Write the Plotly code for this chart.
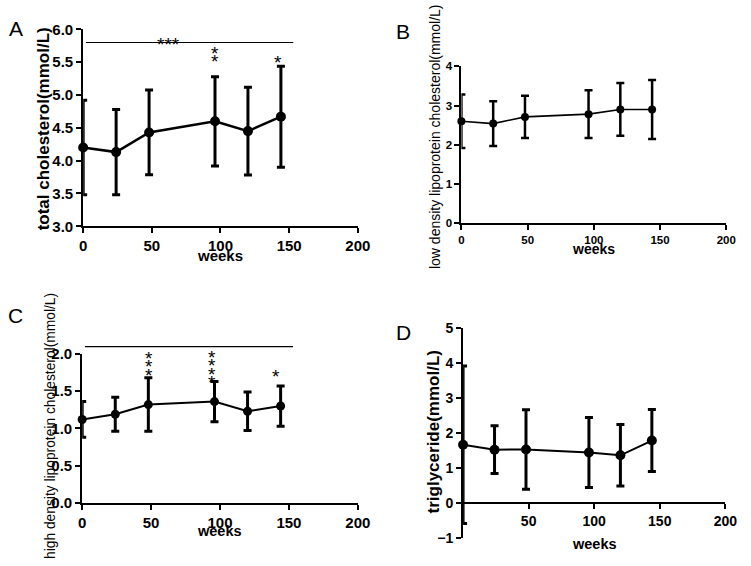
import plotly.graph_objects as go

# ---------------- data ----------------
weeks = [0, 24, 48, 96, 120, 144]

tc_mean = [4.20, 4.13, 4.43, 4.60, 4.45, 4.67]
tc_sd = [0.72, 0.65, 0.645, 0.68, 0.67, 0.77]

ldl_mean = [2.60, 2.54, 2.71, 2.78, 2.90, 2.90]
ldl_sd = [0.68, 0.57, 0.54, 0.61, 0.67, 0.75]

hdl_mean = [1.12, 1.19, 1.32, 1.36, 1.23, 1.30]
hdl_sd = [0.24, 0.23, 0.36, 0.27, 0.26, 0.27]

tg_mean = [1.67, 1.53, 1.535, 1.45, 1.37, 1.79]
tg_sd = [2.25, 0.68, 1.135, 1.00, 0.88, 0.885]

# significance annotations: (week, number of stars, y of lowest star)
tc_sig_points = [(96, 2, 5.57), (142, 1, 5.56)]
tc_bracket = (2, 153, 5.8, 62, "***")
hdl_sig_points = [(48.5, 3, 1.77), (94, 4, 1.67), (141, 1, 1.75)]
hdl_bracket = (2, 153, 2.1, 65, "****")

FONT = "Liberation Sans, Arial, sans-serif"
W, H = 751, 566


def fx(px):
    return px / W


def fy(py):
    return 1 - py / H


fig = go.Figure()

panels = [
    dict(ax="", mean=tc_mean, sd=tc_sd, xdom=[fx(81), fx(362)], ydom=[fy(224), fy(21)],
         yr=[3, 6], dtick=0.5, fmt=".1f", tfs=15, msize=10, lw=2.5, ew=3),
    dict(ax="2", mean=ldl_mean, sd=ldl_sd, xdom=[fx(468), fx(739)], ydom=[fy(221), fy(59)],
         yr=[0, 4], dtick=1, fmt="d", tfs=11.5, msize=8, lw=1.6, ew=2.5),
    dict(ax="3", mean=hdl_mean, sd=hdl_sd, xdom=[fx(80), fx(362)], ydom=[fy(509), fy(355.7)],
         yr=[0, 2], dtick=0.5, fmt=".1f", tfs=15, msize=9, lw=2, ew=3),
    dict(ax="4", mean=tg_mean, sd=tg_sd, xdom=[fx(469.7), fx(738)], ydom=[fy(545.7), fy(329)],
         yr=[-1, 5], dtick=1, fmt="d", tfs=14, msize=10, lw=2, ew=3),
]

for p in panels:
    a = p["ax"]
    fig.add_trace(go.Scatter(
        x=weeks, y=p["mean"], mode="lines+markers",
        xaxis="x" + a, yaxis="y" + a,
        line=dict(color="black", width=p["lw"]),
        marker=dict(color="black", size=p["msize"]),
        error_y=dict(type="data", array=p["sd"], visible=True, color="black",
                     thickness=p["ew"], width=4),
        cliponaxis=False, showlegend=False, hoverinfo="skip",
    ))
    xa = dict(domain=p["xdom"], range=[0, 200], showgrid=False, zeroline=False,
              showline=True, linecolor="black", linewidth=2, ticks="outside",
              ticklen=5, tickwidth=2, tickcolor="black", tickvals=[0, 50, 100, 150, 200],
              tickfont=dict(family=FONT, size=p["tfs"], color="black", weight="bold"),
              anchor="y" + a)
    ya = dict(domain=p["ydom"], range=p["yr"], showgrid=False, zeroline=False,
              showline=True, linecolor="black", linewidth=2, ticks="outside",
              ticklen=5, tickwidth=2, tickcolor="black", dtick=p["dtick"], tick0=p["yr"][0],
              tickformat=p["fmt"],
              tickfont=dict(family=FONT, size=p["tfs"], color="black", weight="bold"),
              anchor="x" + a)
    if a == "4":
        ymin, ymax = p["yr"]
        pos = p["ydom"][0] + (0 - ymin) / (ymax - ymin) * (p["ydom"][1] - p["ydom"][0])
        xa.update(anchor="free", position=pos, tickvals=[50, 100, 150, 200])
    fig.update_layout(**{"xaxis" + a: xa, "yaxis" + a: ya})


def add_sig(a, bracket, points, yrange):
    x0, x1, yb, xl, txt = bracket
    ref_y = "y" + a
    # bracket line (may lie above the axis range, so use domain coordinates)
    ydom = (yb - yrange[0]) / (yrange[1] - yrange[0])
    fig.add_shape(type="line", xref="x" + a, yref=ref_y + " domain",
                  x0=x0, x1=x1, y0=ydom, y1=ydom, line=dict(color="black", width=1.2))
    fig.add_annotation(x=xl, y=yb, xref="x" + a, yref=ref_y, text=txt, showarrow=False,
                       font=dict(family=FONT, size=19, color="black"),
                       yanchor="middle", yshift=-2)
    for wk, n, ylow in points:
        for k in range(n):
            fig.add_annotation(x=wk, y=ylow, xref="x" + a, yref=ref_y, text="*",
                               showarrow=False, yanchor="middle",
                               font=dict(family=FONT, size=19, color="black"),
                               yshift=-4 + k * 8.3)


add_sig("", tc_bracket, tc_sig_points, [3, 6])
add_sig("3", hdl_bracket, hdl_sig_points, [0, 2])


def title(text, px, py, size, bold=True, angle=0):
    fig.add_annotation(x=fx(px), y=fy(py), xref="paper", yref="paper", text=text,
                       showarrow=False, textangle=angle, xanchor="center", yanchor="middle",
                       font=dict(family=FONT, size=size, color="black",
                                 weight="bold" if bold else "normal"))


title("total cholesterol(mmol/L)", 40, 124, 17, True, -90)
title("weeks", 221, 254, 15)
title("low density lipoprotein cholesterol(mmol/L)", 441, 132, 14, False, -90)
title("weeks", 603.5, 247.5, 14)
title("high density lipoprotein cholesterol(mmol/L)", 47, 430, 13.8, False, -90)
title("weeks", 221, 538, 14.5)
title("triglyceride(mmol/L)", 439, 436.5, 17, True, -90)
title("weeks", 604, 552, 14.5)

title("A", 12.5, 20.5, 21, False)
title("B", 408, 23.5, 21, False)
title("C", 12, 316, 21, False)
title("D", 408.5, 333.5, 21, False)

fig.update_layout(width=W, height=H, margin=dict(l=0, r=0, t=0, b=0),
                  paper_bgcolor="white", plot_bgcolor="white",
                  font=dict(family=FONT, color="black"))

post = ("document.documentElement.style.margin='0';document.body.style.margin='0';"
        "document.body.style.padding='0';"
        "document.documentElement.style.overflow='hidden';document.body.style.overflow='hidden';")
fig.write_html("out.html", post_script=post, config={"displayModeBar": False})
